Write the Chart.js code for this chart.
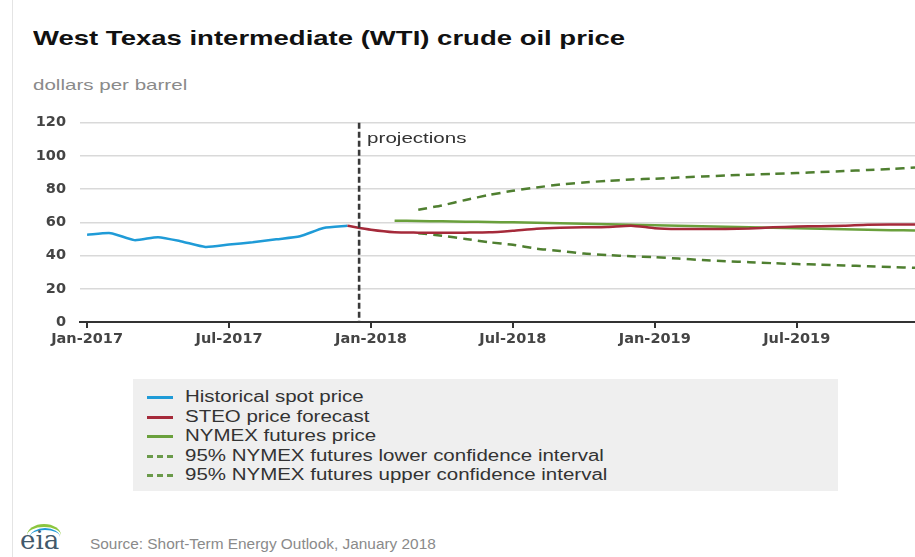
<html>
<head>
<script src="https://cdn.jsdelivr.net/npm/chart.js@4.4.0/dist/chart.umd.min.js"></script>
<style>
  body { margin:0; background:#fff; font-family: Arial, "Liberation Sans", sans-serif; }
  #frame { position:absolute; left:12px; top:0; width:903px; height:557px; border-left:1px solid #e4e4e4; }
  .wide { transform-origin: 0 0; white-space:nowrap; }
  #title { position:absolute; left:33px; top:26px; font-size:21px; font-weight:bold; color:#111; transform:scaleX(1.31); }
  #units { position:absolute; left:33px; top:76px; font-size:15px; color:#8a8a8a; transform:scaleX(1.37); }
  #wrap { position:absolute; left:0; top:100px; width:915px; height:260px; }
  #legend { position:absolute; left:133px; top:379px; width:705px; height:112px; background:#efefef; }
  .row { position:absolute; left:14px; height:20px; font-size:16px; color:#333; line-height:20px; }
  .sw { position:absolute; left:0; top:9px; width:26px; height:0; }
  .row span { position:absolute; left:38px; top:0; transform:scaleX(1.28); }
  #source { position:absolute; left:90px; top:536px; font-size:14px; color:#8a8a8a; transform:scaleX(1.1); }
  #logo { position:absolute; left:20px; top:522px; width:42px; height:32px; }
  #logo .t { position:absolute; left:0; top:3px; font-family:"DejaVu Serif", "Liberation Serif", serif; font-size:26px; color:#41596b; }
  #logo .arc { position:absolute; left:7px; top:2px; width:34px; height:20px; border-radius:50% 50% 0 0; border-top:3px solid #8cc63f; }
  #logo .arc2 { position:absolute; left:10px; top:6px; width:30px; height:16px; border-radius:50% 50% 0 0; border-top:2px solid #1f9bd7; }
</style>
</head>
<body>
<div id="frame"></div>
<div id="title" class="wide">West Texas intermediate (WTI) crude oil price</div>
<div id="units" class="wide">dollars per barrel</div>
<div id="wrap"><canvas id="canvas"></canvas></div>
<div id="legend"></div>
<div id="logo"><div class="arc"></div><div class="arc2"></div><div class="t">eia</div></div>
<div id="source" class="wide">Source: Short-Term Energy Outlook, January 2018</div>

<script>
// months Jan-2017 .. Dec-2019 (index 0..35)
var months = [];
var mnames = ['Jan','Feb','Mar','Apr','May','Jun','Jul','Aug','Sep','Oct','Nov','Dec'];
[2017, 2018, 2019].forEach(function(y){ mnames.forEach(function(m){ months.push(m + '-' + y); }); });
var tickIdx = [0, 6, 12, 18, 24, 30];

// historical spot, Jan-2017 .. Dec-2017
var histStart = 0;
var histPrice = [52.5, 53.5, 49.3, 51.1, 48.5, 45.2, 46.6, 48.0, 49.8, 51.6, 56.6, 57.9];
// STEO forecast, Dec-2017 .. Dec-2019
var steoStart = 11;
var steoPrice = [57.9, 55.5, 54.0, 53.8, 53.7, 53.8, 54.0, 55.0, 56.2, 56.8, 57.0, 57.2, 58.0,
                 56.5, 56.0, 56.0, 56.0, 56.3, 57.0, 57.5, 57.7, 58.0, 58.6, 58.7, 58.7];
// NYMEX futures, Feb-2018 .. Dec-2019
var nymexStart = 13;
var nymexPrice = [61.0, 60.8, 60.6, 60.4, 60.2, 60.0, 59.7, 59.4, 59.1, 58.8, 58.5, 58.2,
                  57.9, 57.6, 57.3, 57.0, 56.7, 56.4, 56.1, 55.8, 55.5, 55.3, 55.1];
// 95% confidence bands, Mar-2018 .. Dec-2019
var bandStart = 14;
var lowerCI = [53.5, 52.0, 50.0, 48.0, 46.5, 44.2, 42.8, 41.2, 40.3, 39.6, 39.0, 38.2,
               37.3, 36.6, 36.0, 35.4, 34.9, 34.5, 34.0, 33.6, 33.1, 32.6];
var upperCI = [67.6, 70.2, 73.5, 76.5, 79.0, 81.0, 82.8, 84.0, 85.0, 85.8, 86.3, 87.0,
               87.6, 88.2, 88.7, 89.2, 89.7, 90.3, 90.9, 91.5, 92.2, 93.0];

var seriesNames = ['Historical spot price', 'STEO price forecast', 'NYMEX futures price',
                   '95% NYMEX futures lower confidence interval', '95% NYMEX futures upper confidence interval'];

function pts(start, arr) {
  return arr.map(function(v, i){ return {x: start + i, y: v}; });
}

var axisFont = { family: '"DejaVu Sans", Verdana, sans-serif', size: 14.5, weight: 'bold' };

var projLine = {
  id: 'projLine',
  afterDatasetsDraw: function(chart) {
    var ctx = chart.ctx, xs = chart.scales.x, a = chart.chartArea;
    var px = xs.getPixelForValue(11.5);
    ctx.save();
    ctx.strokeStyle = '#3a3a3a';
    ctx.lineWidth = 2.6;
    ctx.setLineDash([6, 3]);
    ctx.beginPath();
    ctx.moveTo(px, a.top);
    ctx.lineTo(px, a.bottom);
    ctx.stroke();
    ctx.setLineDash([]);
    ctx.fillStyle = '#333';
    ctx.font = '15px Arial, "Liberation Sans", sans-serif';
    ctx.textBaseline = 'middle';
    ctx.translate(px + 8, a.top + 16);
    ctx.scale(1.37, 1);
    ctx.fillText('projections', 0, 0);
    ctx.restore();
  }
};

var ctx = document.getElementById('canvas').getContext('2d');
var chart = new Chart(ctx, {
  type: 'line',
  data: {
    datasets: [
      { label: seriesNames[0], data: pts(histStart, histPrice), borderColor: '#1f9bd7', borderWidth: 2.5 },
      { label: seriesNames[1], data: pts(steoStart, steoPrice), borderColor: '#a52a3a', borderWidth: 2.5 },
      { label: seriesNames[2], data: pts(nymexStart, nymexPrice), borderColor: '#6aa03c', borderWidth: 2.5 },
      { label: seriesNames[3], data: pts(bandStart, lowerCI), borderColor: '#4f7f30', borderWidth: 2.5, borderDash: [9, 6] },
      { label: seriesNames[4], data: pts(bandStart, upperCI), borderColor: '#4f7f30', borderWidth: 2.5, borderDash: [9, 6] }
    ]
  },
  options: {
    responsive: true,
    maintainAspectRatio: false,
    animation: false,
    elements: { point: { radius: 0 }, line: { tension: 0.2 } },
    layout: { padding: { top: 16, right: 0, left: 0, bottom: 0 } },
    plugins: { legend: { display: false }, tooltip: { enabled: false } },
    scales: {
      x: {
        type: 'linear',
        min: -0.3,
        max: 35,
        afterBuildTicks: function(s){ s.ticks = tickIdx.map(function(v){ return {value: v}; }); },
        afterFit: function(s){ s.height = 38; },
        ticks: {
          autoSkip: false,
          maxRotation: 0,
          padding: 3,
          color: '#444',
          font: axisFont,
          callback: function(v){ return months[v]; }
        },
        grid: { drawOnChartArea: false, drawTicks: true, tickLength: 6, color: '#333', lineWidth: 2 },
        border: { display: true, color: '#333', width: 2 }
      },
      y: {
        min: 0,
        max: 120,
        afterFit: function(s){ s.width = 80; },
        ticks: {
          stepSize: 20,
          padding: 14,
          color: '#444',
          font: axisFont
        },
        grid: { color: '#d9d9d9', lineWidth: 1.5, drawTicks: false },
        border: { display: false }
      }
    }
  },
  plugins: [projLine]
});

// legend in gray box, built from the chart datasets
var leg = document.getElementById('legend');
chart.data.datasets.forEach(function(ds, i){
  var row = document.createElement('div');
  row.className = 'row';
  row.style.top = (8 + i * 19.5) + 'px';
  var sw = document.createElement('div');
  sw.className = 'sw';
  sw.style.borderTop = '3px ' + (ds.borderDash ? 'dashed ' : 'solid ') + (ds.borderDash ? '#6a9a4a' : ds.borderColor);
  var t = document.createElement('span');
  t.className = 'wide';
  t.textContent = ds.label;
  row.appendChild(sw);
  row.appendChild(t);
  leg.appendChild(row);
});
</script>
</body>
</html>
